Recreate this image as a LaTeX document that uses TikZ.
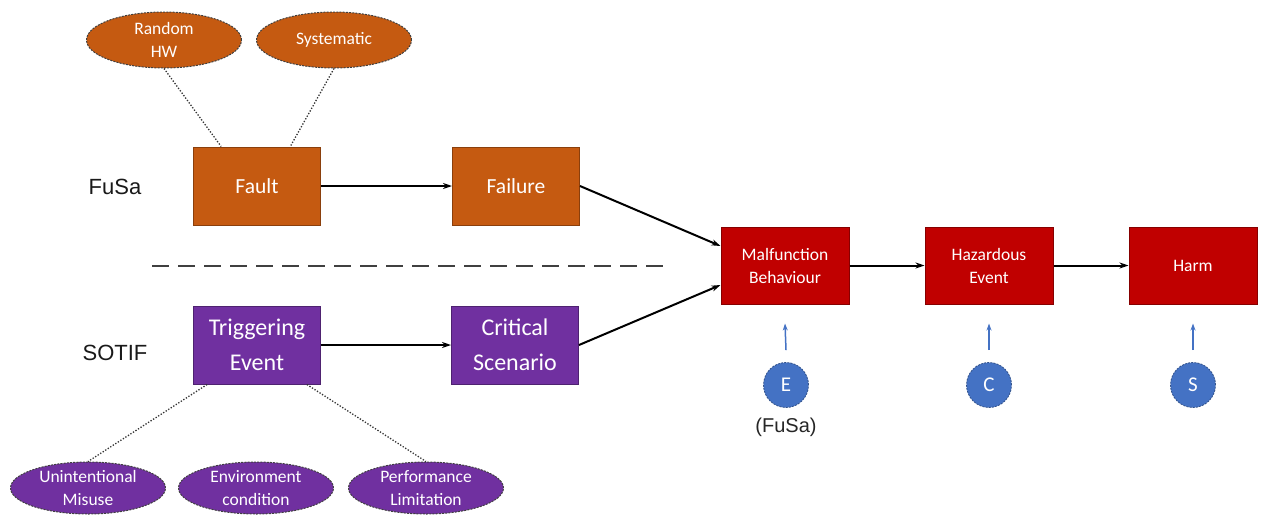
\documentclass[tikz,border=0pt]{standalone}
\usepackage{fontspec}
\setmainfont{Carlito}
\newfontfamily\arialfont{Liberation Sans}
\usetikzlibrary{arrows.meta,calc,shapes.geometric}
\definecolor{fusaorange}{HTML}{C55A11}
\definecolor{sotifpurple}{HTML}{7030A0}
\definecolor{harmred}{HTML}{C00000}
\definecolor{sevblue}{HTML}{4472C4}
\newcommand{\fs}[2]{\fontsize{#1}{#2}\selectfont}
\tikzset{
  box/.style={draw=#1!70!black, fill=#1, line width=1pt, text=white,
    minimum width=127pt, align=center, inner sep=0pt},
  fusabox/.style={box=fusaorange, minimum height=78pt, font=\fs{21.5}{29}},
  sotifbox/.style={box=sotifpurple, minimum height=78pt, font=\fs{24}{35}},
  effectbox/.style={box=harmred, minimum width=128pt, minimum height=77pt, font=\fs{17.5}{23}},
  cause/.style={ellipse, draw=black!75, fill=#1, line width=1pt,
    dash pattern=on 2pt off 1.2pt, text=white, minimum width=155pt,
    minimum height=56pt, align=center, inner sep=0pt, font=\fs{17.5}{23}},
  rating/.style={circle, draw=sevblue!70!black, fill=sevblue, line width=0.8pt,
    dash pattern=on 2pt off 1.2pt, minimum size=45pt, inner sep=0pt,
    text=white, font=\fs{21}{24}},
  flow/.style={-{Stealth[length=9pt,width=6pt]}, line width=2pt, black},
  link/.style={line width=1.3pt, black!80, dash pattern=on 1.3pt off 1.7pt},
  rate/.style={-{Stealth[length=7pt,width=5pt]}, line width=1.5pt, sevblue},
  arealabel/.style={font=\arialfont\fs{22}{26}, text=black!90},
}
\begin{document}
\begin{tikzpicture}[x=1pt, y=-1pt]
  \useasboundingbox (0,0) rectangle (1264,515);

  % FuSa branch
  \node[cause=fusaorange] (rhw) at (164,40) {Random\\HW};
  \node[cause=fusaorange] (sys) at (334,40) {Systematic};
  \node[fusabox] (fault) at (257,186) {Fault};
  \node[fusabox] (failure) at (516,186) {Failure};
  \node[arealabel] (fusa) at (115,187) {FuSa};

  % separator between the two areas
  \coordinate (sepA) at (152,266);
  \coordinate (sepB) at (670,266);
  \draw[line width=2.5pt, black!75, dash pattern=on 17pt off 9pt] (sepA) -- (sepB);

  % SOTIF branch
  \node[sotifbox] (trig) at (257,345) {Triggering\\Event};
  \node[sotifbox] (crit) at (515,345) {Critical\\Scenario};
  \node[arealabel] (sotif) at (115,353) {SOTIF};
  \node[cause=sotifpurple, minimum height=52pt] (misuse) at (88,488) {Unintentional\\Misuse};
  \node[cause=sotifpurple, minimum height=52pt] (env) at (256,488) {Environment\\condition};
  \node[cause=sotifpurple, minimum height=52pt] (perf) at (426,488) {Performance\\Limitation};

  % consequences
  \node[effectbox] (malf) at (785,265.5) {Malfunction\\Behaviour};
  \node[effectbox] (haz) at (989,265.5) {Hazardous\\Event};
  \node[effectbox] (harm) at (1193,265.5) {Harm};

  % risk parameters
  \node[rating] (E) at (786,385) {E};
  \node[rating] (C) at (989,385) {C};
  \node[rating] (S) at (1193,385) {S};
  \node[font=\arialfont\fs{20}{24}, text=black!85] (fusanote) at (786,427) {(FuSa)};

  % cause links
  \draw[link] (rhw.south) -- ($(fault.north west)!0.22!(fault.north east)$);
  \draw[link] (sys.south) -- ($(fault.north west)!0.76!(fault.north east)$);
  \draw[link] ($(trig.south west)!0.11!(trig.south east)$) -- (misuse.north);
  \draw[link] ($(trig.south west)!0.89!(trig.south east)$) -- (perf.north);

  % flow
  \draw[flow] (fault) -- (failure);
  \draw[flow] (trig) -- (crit);
  \draw[flow] (failure.east) -- ($(malf.west)+(0,-19.5)$);
  \draw[flow] (crit.east) -- ($(malf.west)+(0,19.5)$);
  \draw[flow] (malf) -- (haz);
  \draw[flow] (haz) -- (harm);

  % parameter arrows
  \draw[rate] ($(E.north)+(0,-12)$) -- ($(malf.south)+(0,19)$);
  \draw[rate] ($(C.north)+(0,-12)$) -- ($(haz.south)+(0,19)$);
  \draw[rate] ($(S.north)+(0,-12)$) -- ($(harm.south)+(0,19)$);
\end{tikzpicture}
\end{document}
